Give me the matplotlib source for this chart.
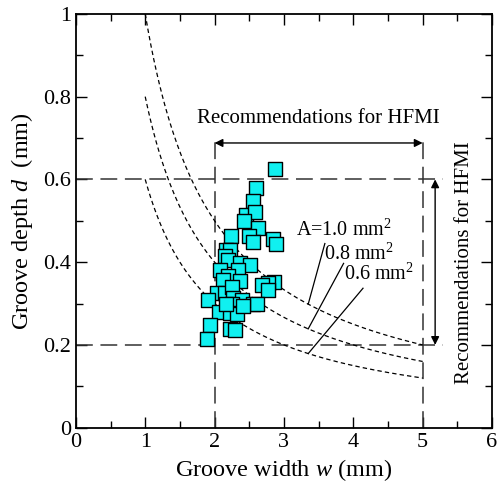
import numpy as np
import matplotlib
matplotlib.use("Agg")
import matplotlib.pyplot as plt

plt.rcParams['font.family'] = ['Liberation Serif', 'DejaVu Serif']
plt.rcParams['mathtext.fontset'] = 'custom'
plt.rcParams['mathtext.rm'] = 'Liberation Serif'
plt.rcParams['mathtext.it'] = 'Liberation Serif:italic'

# measured grooves (width w, depth d) in mm
groove_w = [2.87, 2.60, 2.55, 2.45, 2.59, 2.43, 2.62, 2.23, 2.50, 2.56,
            2.84, 2.88, 2.17, 2.22, 2.15, 2.20, 2.36, 2.51, 2.08, 2.34,
            2.20, 2.37, 2.12, 2.85, 2.77, 2.68, 2.03, 2.15, 2.25, 2.77,
            1.91, 2.27, 2.40, 2.56, 2.61, 2.25, 2.07, 2.22, 2.32, 1.93,
            2.22, 2.30, 1.89, 2.41, 2.17]
groove_d = [0.626, 0.579, 0.548, 0.515, 0.520, 0.499, 0.483, 0.463, 0.463, 0.449,
            0.455, 0.443, 0.430, 0.430, 0.414, 0.405, 0.397, 0.393, 0.382, 0.382,
            0.366, 0.354, 0.357, 0.353, 0.349, 0.345, 0.326, 0.325, 0.341, 0.333,
            0.308, 0.313, 0.308, 0.299, 0.300, 0.300, 0.280, 0.276, 0.274, 0.247,
            0.238, 0.235, 0.214, 0.294, 0.300]

# constant groove area curves d = A / w
areas = [1.0, 0.8, 0.6]
area_labels = ['A=1.0 mm$^2$', '0.8 mm$^2$', '0.6 mm$^2$']
w_curve = np.linspace(1, 5, 200)

# HFMI recommended window
rec_w = [2, 5]
rec_d = [0.2, 0.6]

fig = plt.figure(figsize=(4.99, 4.95), dpi=100)
ax = fig.add_axes([0.152, 0.136, 0.834, 0.836])

# recommendation box lines
for w in rec_w:
    ax.plot([w, w], [0, 0.70], color='#333333', lw=1.1, dashes=(11, 5))
for d in rec_d:
    ax.plot([0, 5.3], [d, d], color='#333333', lw=1.1, dashes=(11, 5))

# area curves
for A in areas:
    ax.plot(w_curve, A / w_curve, color='black', lw=0.9, dashes=(3.5, 2.5))

ax.scatter(groove_w, groove_d, marker='s', s=105, facecolor='#10F0F0',
           edgecolor='black', linewidth=1.0, zorder=5)

# area annotations
text_pos = [(3.86, 0.478), (4.08, 0.42), (4.37, 0.37)]
line_start = [(3.59, 0.445), (3.86, 0.397), (4.14, 0.337)]
for A, lab, tp, ls in zip(areas, area_labels, text_pos, line_start):
    ax.text(tp[0], tp[1], lab, fontsize=14.5, ha='center', va='center')
    ax.plot([ls[0], 3.35], [ls[1], A / 3.35], color='black', lw=0.9)

# recommendation arrows
ax.annotate('', xy=(2, 0.688), xytext=(5, 0.688),
            arrowprops=dict(arrowstyle='<|-|>', color='black', lw=1.0,
                            shrinkA=0, shrinkB=0, mutation_scale=12))
ax.text(3.49, 0.746, 'Recommendations for HFMI', fontsize=15,
        ha='center', va='center')
ax.annotate('', xy=(5.18, 0.6), xytext=(5.18, 0.2),
            arrowprops=dict(arrowstyle='<|-|>', color='black', lw=1.0,
                            shrinkA=0, shrinkB=0, mutation_scale=12))
ax.text(5.6, 0.40, 'Recommendations for HFMI', fontsize=15,
        ha='center', va='center', rotation=90)

ax.set_xlim(0, 6)
ax.set_ylim(0, 1)
ax.set_xticks(range(0, 7))
ax.set_xticks(np.arange(0, 6.01, 0.5), minor=True)
ax.set_yticks([0, 0.2, 0.4, 0.6, 0.8, 1])
ax.set_yticklabels(['0', '0.2', '0.4', '0.6', '0.8', '1'])
ax.set_yticks(np.arange(0, 1.01, 0.1), minor=True)
ax.tick_params(which='both', direction='in', top=True, right=True,
               labelsize=16, width=1.0)
ax.tick_params(which='major', length=8)
ax.tick_params(which='minor', length=5)
for sp in ax.spines.values():
    sp.set_linewidth(1.3)

ax.set_xlabel('Groove width $w$ (mm)', fontsize=17.5, labelpad=4)
ax.set_ylabel('Groove depth $d$  (mm)', fontsize=17.5, labelpad=6)

plt.savefig('out.png', dpi=100)
